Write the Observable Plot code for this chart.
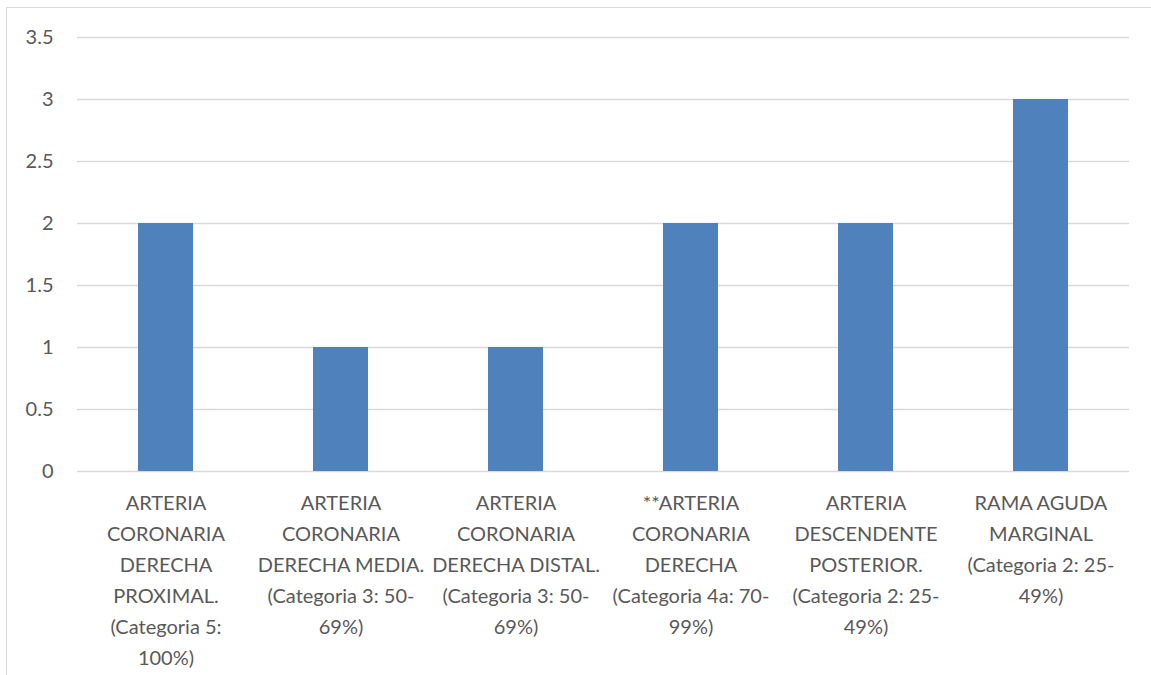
<!DOCTYPE html>
<html>
<head>
<meta charset="utf-8">
<script src="https://cdn.jsdelivr.net/npm/d3@7"></script>
<script src="https://cdn.jsdelivr.net/npm/@observablehq/plot@0.6"></script>
<style>
  html, body { margin: 0; padding: 0; background: #fff; overflow: hidden; }
  #wrap { position: relative; width: 1151px; height: 675px; overflow: hidden; }
  #frame { position: absolute; left: 6px; top: 7px; width: 1200px; height: 700px;
           border-left: 1.5px solid #d9d9d9; border-top: 1.5px solid #d9d9d9; box-sizing: border-box; }
  #chart { position: absolute; left: 0; top: 0; }
</style>
</head>
<body>
<div id="wrap"><div id="frame"></div><div id="chart"></div></div>
<script>
// Category labels (line breaks as displayed under each bar)
const categories = [
  "ARTERIA\nCORONARIA\nDERECHA\nPROXIMAL.\n(Categoria 5:\n100%)",
  "ARTERIA\nCORONARIA\nDERECHA MEDIA.\n(Categoria 3: 50-\n69%)",
  "ARTERIA\nCORONARIA\nDERECHA DISTAL.\n(Categoria 3: 50-\n69%)",
  "**ARTERIA\nCORONARIA\nDERECHA\n(Categoria 4a: 70-\n99%)",
  "ARTERIA\nDESCENDENTE\nPOSTERIOR.\n(Categoria 2: 25-\n49%)",
  "RAMA AGUDA\nMARGINAL\n(Categoria 2: 25-\n49%)"
];
// Number of lesions per segment
const values = [2, 1, 1, 2, 2, 3];
// Value axis ticks
const yTicks = [0, 0.5, 1, 1.5, 2, 2.5, 3, 3.5];

const data = categories.map((category, i) => ({category, value: values[i]}));

const textColor = "#595959";
const gridColor = "#d9d9d9";
const font = "Lato, 'Open Sans', sans-serif";

const chart = Plot.plot({
  width: 1151,
  height: 675,
  marginLeft: 77,
  marginRight: 22,
  marginTop: 37,
  marginBottom: 204,
  style: {fontFamily: font, fontSize: "20px", color: textColor, background: "transparent"},
  x: {domain: categories, paddingInner: 0.686, paddingOuter: 0.343, label: null},
  y: {domain: [0, 3.5], label: null},
  marks: [
    Plot.gridY(yTicks, {stroke: gridColor, strokeOpacity: 1, strokeWidth: 1.5}),
    Plot.axisY(yTicks, {tickSize: 0, tickPadding: 24, fontSize: 20, fill: textColor, label: null, tickFormat: d => String(d)}),
    Plot.barY(data, {x: "category", y: "value", fill: "#4f81bd"}),
    Plot.axisX({tickSize: 0, tickPadding: 16, fontSize: 20, fill: textColor, lineHeight: 1.55, label: null, textOverflow: null})
  ]
});

document.getElementById("chart").appendChild(chart);
</script>
</body>
</html>
